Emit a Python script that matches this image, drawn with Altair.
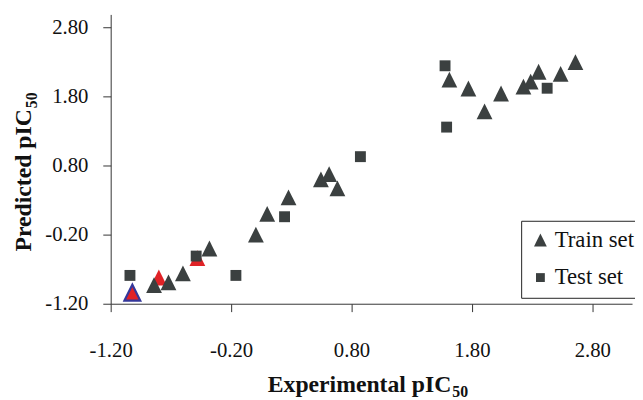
import altair as alt
import pandas as pd

# ---- data ----
train_x = [-0.84, -0.72, -0.60, -0.38, 0.006, 0.10, 0.277, 0.546, 0.614, 0.683,
           1.613, 1.771, 1.905, 2.042, 2.228, 2.288, 2.354, 2.537, 2.66]
train_y = [-0.93, -0.89, -0.76, -0.40, -0.20, 0.10, 0.34, 0.60, 0.678, 0.47,
           2.045, 1.917, 1.587, 1.845, 1.945, 2.017, 2.16, 2.13, 2.30]
test_x = [-1.04, -0.49, -0.16, 0.244, 0.874, 1.577, 1.59, 2.425]
test_y = [-0.79, -0.51, -0.79, 0.06, 0.93, 2.246, 1.358, 1.921]
red_x = [-0.80, -0.48]
red_y = [-0.82, -0.54]
blue_x = [-1.02]
blue_y = [-1.04]

x_ticks = [-1.2, -0.2, 0.8, 1.8, 2.8]
y_ticks = [-1.2, -0.2, 0.8, 1.8, 2.8]
series_names = ["Train set", "Test set"]
x_title = ["Experimental pIC", "50"]
y_title = ["Predicted pIC", "50"]

GRAY = "#3b4040"
RED = "#e02226"
BLUE = "#34379a"
TRI = "M-1,1L0,-1L1,1Z"
SQR = "M-0.69,-0.69L0.69,-0.69L0.69,0.69L-0.69,0.69Z"
SERIF = "Liberation Serif"
LBL = "replace(format(datum.value, '.2f'), '\u2212', '-')"

pts = pd.DataFrame({
    "x": train_x + test_x,
    "y": train_y + test_y,
    "set": [series_names[0]] * len(train_x) + [series_names[1]] * len(test_x),
})
red = pd.DataFrame({"x": red_x, "y": red_y})
blue = pd.DataFrame({"x": blue_x, "y": blue_y})

xs = alt.Scale(domain=[-1.2, 3.13], nice=False, zero=False)
ys = alt.Scale(domain=[-1.2, 2.99], nice=False, zero=False)

xaxis = alt.Axis(values=x_ticks, labelExpr=LBL, title=None, grid=False, tickSize=8,
                 labelPadding=28, labelFontSize=21, labelFont=SERIF, labelColor="#111",
                 domainColor="#333", tickColor="#333", labelFlush=False, labelOverlap=False)
yaxis = alt.Axis(values=y_ticks, labelExpr=LBL, title=None, grid=False, tickSize=8,
                 labelPadding=15, labelFontSize=21, labelFont=SERIF, labelColor="#111",
                 domainColor="#333", tickColor="#333", labelFlush=False, labelOverlap=False)

X = alt.X("x:Q", scale=xs, axis=xaxis)
Y = alt.Y("y:Q", scale=ys, axis=yaxis)

red_layer = alt.Chart(red).mark_point(filled=True, shape=TRI, size=256, color=RED,
                                      opacity=1).encode(x=X, y=Y)
blue_layer = alt.Chart(blue).mark_point(filled=True, shape=TRI, size=256, fill=RED,
                                        stroke=BLUE, strokeWidth=2.2, opacity=1).encode(x=X, y=Y)
main_layer = alt.Chart(pts).mark_point(filled=True, size=256, color=GRAY, opacity=1).encode(
    x=X, y=Y,
    shape=alt.Shape("set:N", scale=alt.Scale(domain=series_names, range=[TRI, SQR]),
                    legend=alt.Legend(orient="none", legendX=415.7, legendY=209, title=None,
                                      strokeColor="#222", fillColor="white", padding=8,
                                      labelFont=SERIF, labelFontSize=23, labelColor="#111",
                                      symbolSize=169, symbolFillColor=GRAY, symbolStrokeWidth=0,
                                      symbolOpacity=1, labelOffset=3, rowPadding=14,
                                      labelLimit=300)),
)

tdf = pd.DataFrame({"t": [0]})
xt_main = alt.Chart(tdf).mark_text(text=x_title[0], font=SERIF, fontSize=24, fontWeight="bold",
                                   align="right", baseline="alphabetic", color="#111").encode(
    x=alt.value(345), y=alt.value(382))
xt_sub = alt.Chart(tdf).mark_text(text=x_title[1], font=SERIF, fontSize=16, fontWeight="bold",
                                  align="left", baseline="alphabetic", color="#111").encode(
    x=alt.value(346), y=alt.value(387))
yt_main = alt.Chart(tdf).mark_text(text=y_title[0], font=SERIF, fontSize=24, fontWeight="bold",
                                   align="right", baseline="alphabetic", angle=270, color="#111").encode(
    x=alt.value(-80.5), y=alt.value(96))
yt_sub = alt.Chart(tdf).mark_text(text=y_title[1], font=SERIF, fontSize=16, fontWeight="bold",
                                  align="left", baseline="alphabetic", angle=270, color="#111").encode(
    x=alt.value(-75), y=alt.value(95))

chart = alt.layer(red_layer, blue_layer, main_layer, xt_main, xt_sub, yt_main, yt_sub).properties(
    width=528, height=293,
    padding={"left": 104, "top": 4, "right": 3, "bottom": 95},
    autosize=alt.AutoSizeParams(type="none"),
    background="white",
).configure(font=SERIF).configure_view(stroke=None)

chart.save("out.html", embed_options={"renderer": "svg", "actions": False})
